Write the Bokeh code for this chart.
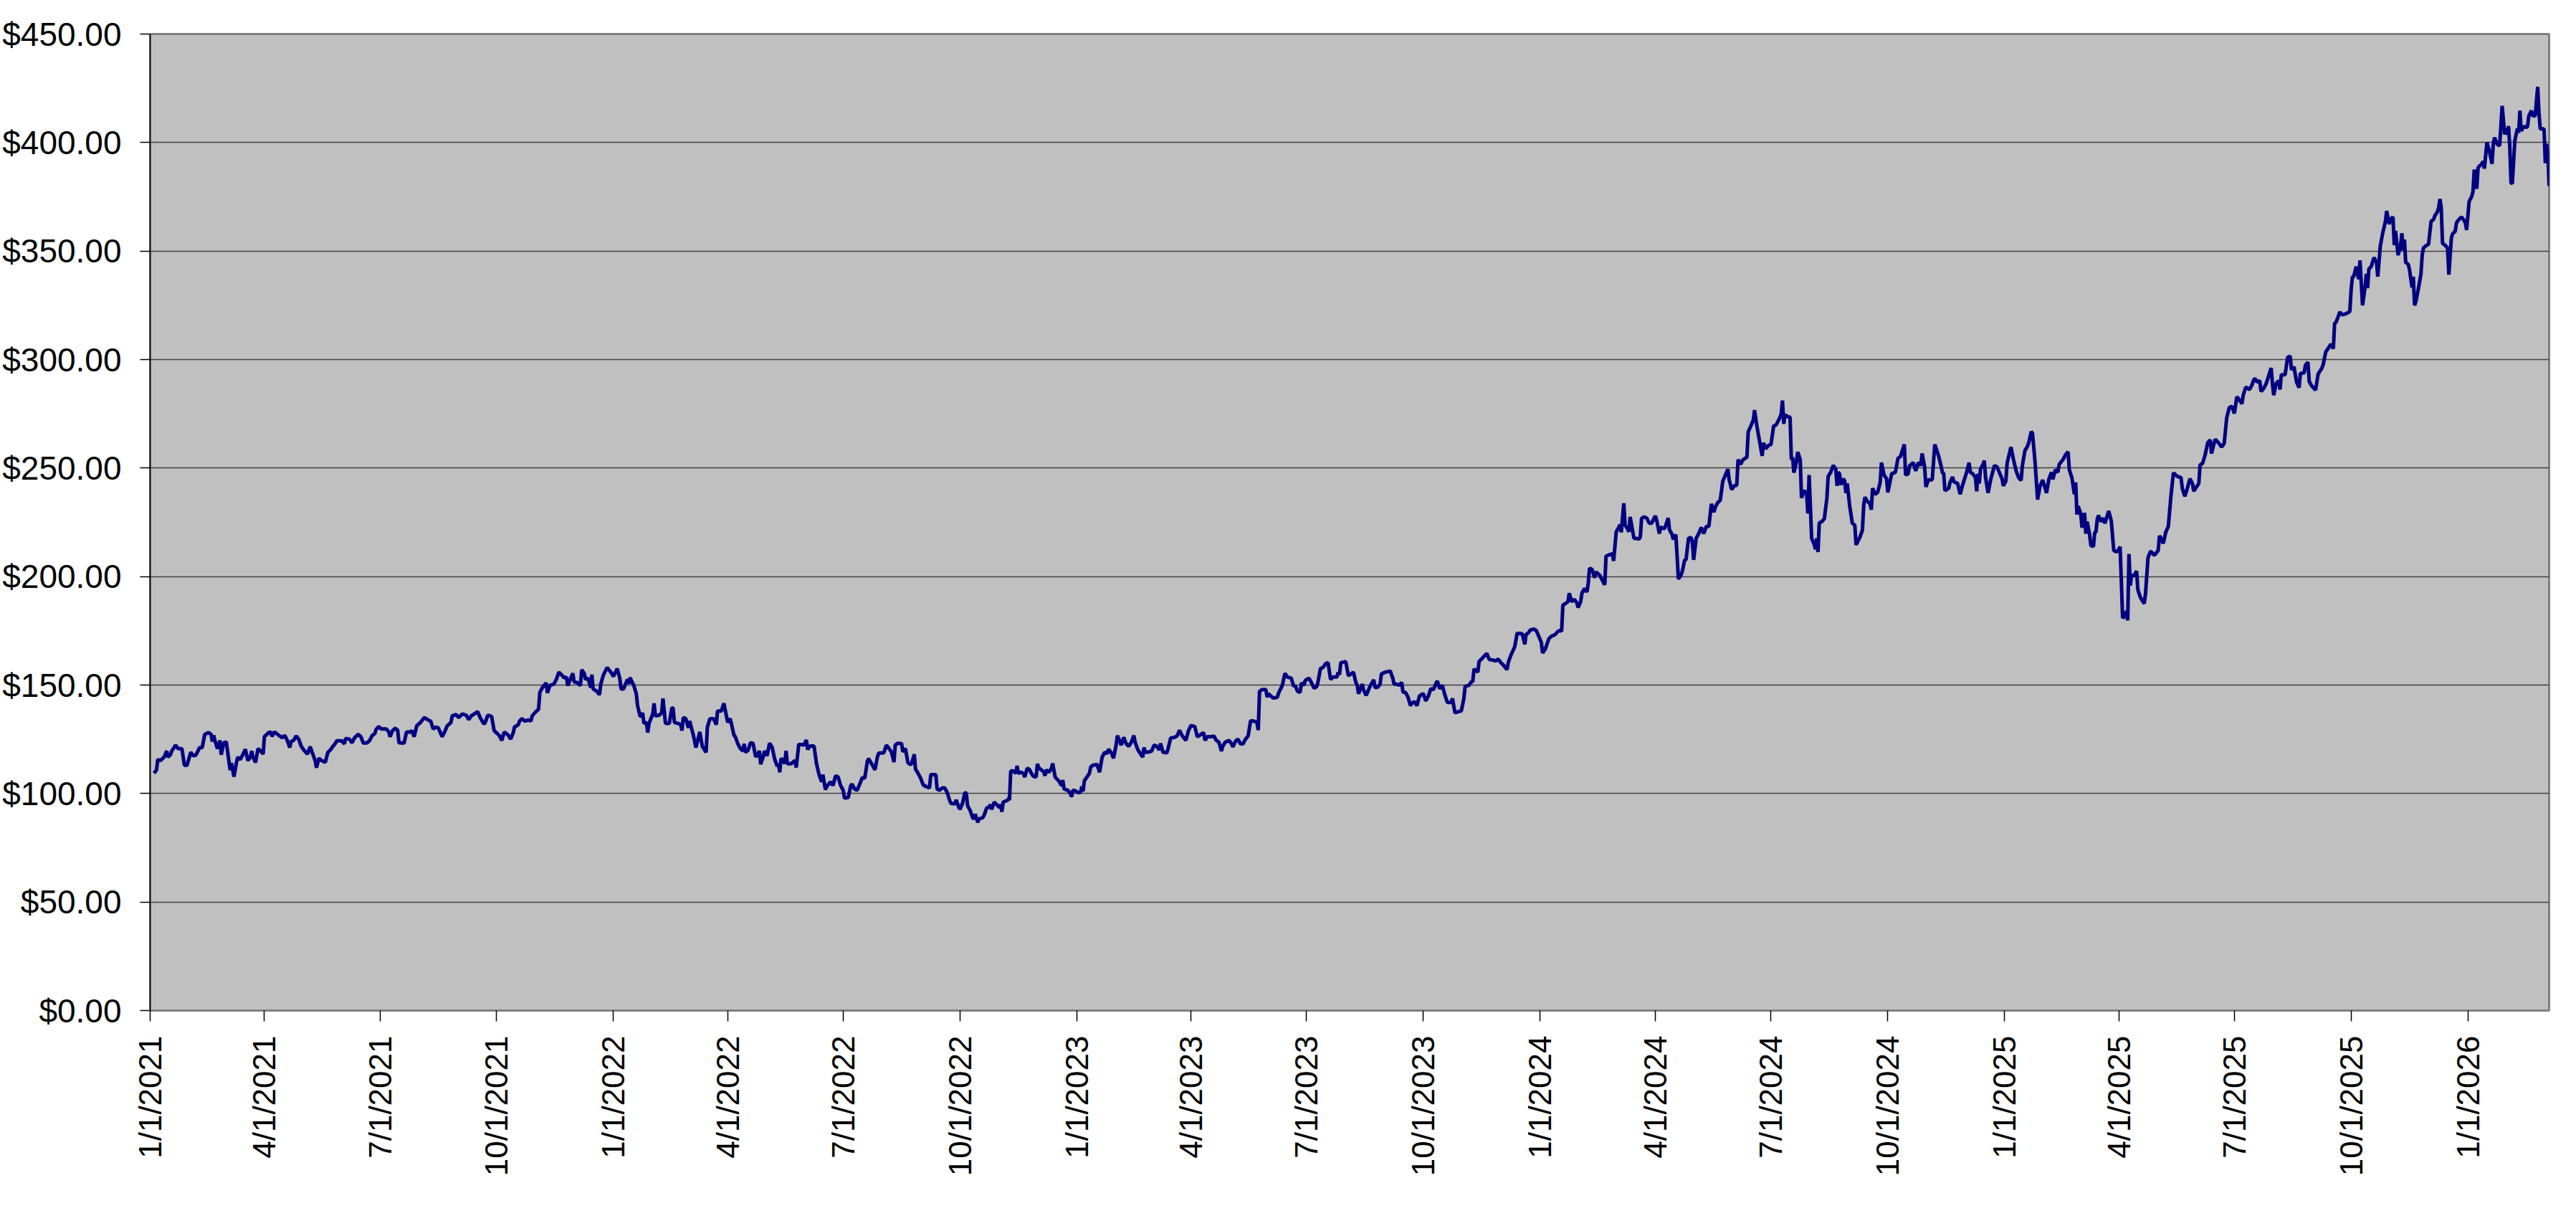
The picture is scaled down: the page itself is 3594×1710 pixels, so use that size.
import math
import pandas as pd
from bokeh.plotting import figure
from bokeh.models import Range1d, FixedTicker, NumeralTickFormatter
from bokeh.embed import file_html
from bokeh.resources import INLINE

# ---------------- data ----------------
start_date = "2021-01-01"

# trading-day offsets (days after start_date)
day_offsets = [
    3, 5, 6, 8, 11, 13, 14, 16, 17, 20,
    22, 25, 27, 29, 32, 34, 36, 39, 41, 43,
    46, 48, 49, 50, 51, 53, 55, 56, 58, 60,
    63, 64, 66, 68, 69, 71, 73, 75, 77, 79,
    80, 81, 83, 85, 87, 89, 90, 93, 95, 96,
    98, 101, 104, 106, 108, 110, 111, 113, 115, 117,
    119, 121, 124, 126, 129, 130, 131, 133, 135, 138,
    140, 142, 144, 146, 147, 151, 153, 154, 157, 159,
    161, 164, 166, 168, 171, 173, 175, 177, 178, 180,
    182, 186, 188, 189, 191, 193, 195, 196, 200, 202,
    205, 206, 208, 210, 213, 216, 219, 221, 223, 225,
    227, 230, 232, 234, 237, 238, 241, 243, 246, 249,
    251,
    253, 256, 258, 260, 263, 264, 266, 269, 270, 271,
    273, 275, 277, 279, 282, 284, 286, 287, 290, 291,
    293, 295, 298, 300, 301, 303, 306, 307, 309, 312,
    313, 315, 318, 320, 322, 324, 326, 328, 329, 331,
    333, 334, 337, 339, 340, 342, 343, 345, 347, 348,
    349, 352, 354, 355, 357, 360, 363, 365, 368, 370,
    371, 373, 376, 377, 378, 381, 383, 384, 386, 387,
    388, 389, 391, 392, 393, 396, 397, 398, 401, 403,
    404, 406, 409, 411, 412, 413, 416, 418, 419, 420,
    422, 424, 425, 428, 430, 433, 435, 438, 439, 441,
    444, 446, 447, 450, 452, 455, 457, 460, 461, 463,
    465, 467, 468, 469, 471, 473, 475, 477, 478, 480,
    481, 483, 484, 486, 488,
    490, 492, 494, 495, 496, 497, 499, 500, 501, 502,
    505, 508, 509, 511, 514, 515, 517, 518, 520, 523,
    525, 527, 529, 530, 532, 533, 536, 538, 540, 542,
    544, 546, 547, 550, 552, 553, 555, 557, 559, 561,
    563, 565, 566, 569, 571, 573, 574, 578, 580, 582,
    584, 586, 587, 589, 592, 593, 595, 597, 599, 600,
    602, 603, 605, 607, 609, 612, 614, 615, 619, 620,
    622, 624, 626, 628, 630, 631, 634, 635, 637, 638,
    640, 642, 643, 644, 646, 648, 649, 650, 652, 653,
    656, 657, 659, 661, 662, 663, 665, 667, 669, 670,
    671, 672, 676, 677, 677, 678, 680, 682, 683, 684,
    686, 688, 689, 691, 693, 694, 696, 698, 699, 700,
    702, 704, 705, 706, 708, 710, 711, 713, 716, 718,
    719, 720, 723, 725, 726, 727, 729, 731, 733, 734,
    735, 736, 738, 740, 741, 743, 746, 748,
    750, 752, 754, 755, 757, 759, 761, 762, 764, 765,
    767, 769, 771, 773, 775, 776, 778, 780, 782, 783,
    784, 787, 789, 791, 793, 795, 796, 798, 801, 802,
    804, 807, 809, 811, 813, 816, 818, 820, 823, 825,
    827, 830, 831, 833, 836, 838, 840, 842, 844, 845,
    847, 850, 852, 853, 855, 857, 859, 861, 863, 865,
    867, 870, 872, 873, 874, 876, 879, 880, 881, 883,
    885, 888, 889, 892, 894, 896, 899, 901, 902, 904,
    906, 907, 909, 910, 913, 915, 917, 919, 920, 922,
    924, 926, 928, 930, 932, 935, 936, 937, 938, 941,
    942, 944, 946, 948, 950, 951, 952, 955, 956, 958,
    961, 962, 964, 965, 967, 969, 970, 973, 977, 979,
    980, 982, 984, 986, 987, 989, 991, 993, 994, 996,
    998,
    1000, 1003, 1005, 1007, 1009, 1011, 1014, 1016, 1018, 1020,
    1022, 1025, 1026, 1028, 1031, 1033, 1035, 1036, 1039, 1041,
    1042, 1043, 1046, 1047, 1049, 1053, 1055, 1058, 1060, 1062,
    1064, 1066, 1069, 1070, 1072, 1075, 1077, 1081, 1083, 1084,
    1086, 1087, 1090, 1092, 1094, 1096, 1097, 1099, 1102, 1104,
    1106, 1107, 1109, 1111, 1112, 1113, 1115, 1117, 1118, 1120,
    1122, 1124, 1125, 1127, 1128, 1130, 1132, 1133, 1134, 1136,
    1138, 1139, 1142, 1144, 1146, 1147, 1149, 1152, 1153, 1155,
    1157, 1158, 1159, 1161, 1162, 1164, 1165, 1166, 1168, 1169,
    1171, 1173, 1174, 1175, 1177, 1179, 1181, 1183, 1185, 1186,
    1187, 1189, 1190, 1193, 1194, 1196, 1197, 1199, 1200, 1202,
    1203, 1204, 1206, 1207, 1209, 1210, 1212, 1214, 1215, 1216,
    1218, 1220, 1222, 1224,
    1226, 1228, 1230, 1232, 1233, 1235, 1237, 1239, 1241, 1243,
    1244, 1246, 1248, 1250, 1251, 1253, 1255, 1258, 1259, 1261,
    1263, 1264, 1266, 1268, 1270, 1271, 1273, 1275, 1277, 1279,
    1281, 1283, 1285, 1286, 1287, 1288, 1290, 1292, 1293, 1294,
    1295, 1297, 1298, 1300, 1301, 1303, 1305, 1306, 1307, 1309,
    1311, 1312, 1313, 1314, 1315, 1317, 1319, 1321, 1322, 1324,
    1326, 1328, 1329, 1330, 1331, 1332, 1334, 1335, 1336, 1337,
    1339, 1341, 1343, 1344, 1347, 1349, 1350, 1351, 1353, 1355,
    1356, 1357, 1359, 1361, 1363, 1364, 1366, 1368, 1369, 1372,
    1373, 1375, 1377, 1379, 1382, 1383, 1385, 1386, 1388, 1389,
    1391, 1393, 1395, 1396, 1398, 1399, 1401, 1404, 1406, 1409,
    1411, 1412, 1413, 1414, 1417, 1418, 1420, 1421, 1424, 1426,
    1428, 1431, 1433, 1434, 1436, 1438, 1439, 1440, 1441, 1442,
    1444, 1445, 1446, 1448, 1450,
    1453, 1455, 1457, 1459, 1460, 1462, 1463, 1466, 1468, 1470,
    1472, 1474, 1475, 1477, 1479, 1480, 1482, 1483, 1485, 1487,
    1489, 1491, 1493, 1494, 1496, 1498, 1499, 1501, 1503, 1504,
    1507, 1509, 1511, 1512, 1514, 1516, 1517, 1518, 1519, 1521,
    1522, 1524, 1525, 1526, 1528, 1529, 1531, 1532, 1533, 1534,
    1535, 1537, 1539, 1540, 1543, 1545, 1546, 1547, 1549, 1550,
    1552, 1554, 1556, 1557, 1558, 1559, 1560, 1561, 1563, 1565,
    1566, 1568, 1571, 1572, 1574, 1576, 1579, 1582, 1583, 1584,
    1586, 1588, 1590, 1592, 1594, 1597, 1600, 1601, 1603, 1605,
    1607, 1609, 1610, 1612, 1614, 1615, 1617, 1619, 1621, 1623,
    1624, 1626, 1627, 1630, 1632, 1634, 1636, 1638, 1640, 1642,
    1644, 1646, 1648, 1649, 1651, 1654, 1656, 1657, 1658, 1660,
    1662, 1663, 1665, 1667, 1669, 1671, 1672, 1673, 1675, 1677,
    1678, 1679, 1682, 1684, 1686, 1687, 1689, 1691, 1693, 1694,
    1697, 1698, 1700, 1701, 1703, 1706, 1708, 1711, 1712, 1714,
    1716, 1718, 1720, 1721, 1722, 1724, 1725, 1727, 1730, 1733,
    1734, 1735, 1736, 1738, 1740, 1741, 1743, 1745, 1746, 1747,
    1748, 1750, 1752, 1754, 1755, 1757, 1759, 1761, 1762, 1764,
    1765, 1767, 1768, 1769, 1771, 1773, 1774, 1775, 1776, 1777,
    1779, 1780, 1782, 1783, 1784, 1785, 1787, 1789, 1790, 1791,
    1793, 1795, 1797, 1799, 1800, 1802, 1803, 1804, 1805, 1806,
    1808, 1810, 1811, 1813, 1814, 1816, 1817, 1819, 1821, 1823,
    1824, 1825, 1827, 1829, 1830, 1831, 1833, 1834, 1835, 1837,
    1838, 1839, 1841, 1843, 1845, 1846, 1847, 1849, 1851, 1852,
    1853, 1855, 1856, 1857, 1858, 1859, 1860, 1861, 1863, 1864,
    1865, 1866, 1867, 1868, 1870, 1872, 1873, 1874, 1876, 1877,
    1879, 1881, 1882, 1883, 1886, 1887, 1888, 1889, 1890,
]

# closing prices in dollars
prices = [
    109.4, 110.8, 115.7, 115.2, 116.8, 119.6, 116.8, 117.9, 119.6, 122.3,
    120.7, 120.7, 113.0, 113.0, 119.0, 117.4, 117.7, 121.2, 121.2, 127.3,
    128.1, 127.3, 124.0, 126.8, 124.5, 120.7, 124.5, 117.9, 123.4, 123.8,
    110.8, 114.1, 107.8, 114.3, 116.8, 115.7, 117.9, 120.4, 115.2, 116.8,
    119.6, 116.8, 114.3, 120.7, 119.6, 118.2, 126.2, 127.9, 128.4, 126.4,
    128.4, 127.0, 125.7, 126.8, 124.5, 121.2, 124.0, 124.5, 126.5, 125.1,
    121.8, 120.1, 118.2, 121.6, 116.8, 115.2, 111.9, 116.3, 115.2, 114.4,
    119.0, 120.1, 121.8, 123.2, 124.3, 124.3, 122.9, 125.4, 125.1, 123.4,
    125.7, 127.3, 126.2, 123.2, 123.4, 124.5, 126.8, 127.6, 129.5, 130.9,
    129.8, 129.8, 128.4, 126.2, 129.0, 130.1, 129.2, 123.4, 123.2, 128.4,
    128.4, 129.0, 126.2, 131.2, 132.8, 135.0, 133.9, 133.4, 129.8, 130.6,
    130.3, 126.2, 128.4, 131.2, 132.8, 135.8, 136.4, 135.0, 136.7, 136.1,
    134.1,
    135.8, 136.9, 137.8, 135.0, 132.0, 132.8, 136.1, 135.6, 132.3, 129.0,
    127.9, 126.8, 124.5, 128.4, 127.0, 125.1, 127.9, 130.6, 131.7, 133.4,
    134.5, 133.4, 133.9, 133.4, 135.8, 137.2, 138.9, 146.6, 148.8, 151.0,
    146.4, 149.9, 150.4, 152.6, 155.9, 154.8, 153.4, 153.7, 149.7, 152.6,
    155.4, 151.5, 151.0, 149.7, 157.0, 155.4, 152.6, 153.2, 148.8, 154.8,
    148.2, 147.1, 145.5, 150.4, 154.5, 158.1, 155.9, 154.0, 157.6, 153.0,
    148.2, 148.2, 152.6, 150.6, 153.4, 149.9, 146.0, 140.5, 135.6, 135.8,
    137.2, 132.3, 132.8, 128.1, 132.3, 136.7, 141.6, 135.8, 136.1, 137.2,
    143.8, 132.3, 132.3, 139.4, 139.4, 132.8, 132.3, 131.7, 129.0, 135.0,
    134.5, 130.3, 133.4, 126.8, 121.2, 128.4, 121.8, 119.0, 130.6, 134.5,
    134.5, 131.7, 138.0, 138.0, 141.6, 132.8, 134.5, 126.8, 126.2, 122.9,
    120.7, 119.6, 122.9, 119.0, 119.9, 123.4, 123.2, 117.0, 117.4, 119.6,
    113.5, 117.0, 119.6, 117.4, 123.2,
    121.4, 115.9, 112.6, 113.7, 109.8, 116.1, 115.3, 113.7, 119.7, 113.7,
    113.7, 115.3, 112.0, 122.7, 122.5, 122.3, 124.7, 120.3, 121.9, 121.9,
    113.7, 108.7, 105.4, 108.7, 101.8, 103.2, 105.4, 103.7, 108.2, 107.6,
    103.7, 101.5, 97.9, 98.2, 103.7, 104.3, 102.1, 101.5, 104.3, 107.3,
    107.1, 114.8, 116.1, 113.1, 110.9, 117.0, 118.6, 118.8, 122.3, 120.8,
    119.2, 114.5, 122.3, 123.2, 123.0, 119.2, 120.8, 114.2, 113.3, 113.9,
    118.1, 111.2, 109.3, 107.1, 104.0, 103.0, 102.6, 108.7, 108.7, 102.1,
    101.5, 102.6, 102.6, 100.4, 96.6, 95.5, 95.2, 97.1, 93.8, 92.7,
    95.5, 100.7, 99.9, 94.4, 92.2, 88.9, 88.3, 90.5, 86.7, 88.3,
    88.9, 90.0, 93.3, 93.8, 94.9, 92.7, 96.0, 94.9, 93.6, 94.9,
    91.6, 96.0, 97.1, 98.5, 96.9, 110.4, 110.4, 109.3, 112.8, 109.3,
    109.8, 109.3, 107.6, 111.7, 110.9, 109.5, 107.9, 107.6, 113.7, 112.0,
    110.9, 110.1, 108.2, 110.9, 109.8, 111.5, 113.9, 107.6, 105.7, 103.7,
    106.2, 102.1, 101.5, 99.9, 98.5, 101.5, 101.3, 100.4, 100.7, 103.2,
    101.0, 105.9, 107.6, 109.3, 112.3, 113.1, 113.4, 109.8,
    116.8, 119.0, 118.5, 120.4, 119.0, 116.3, 122.3, 126.7, 124.0, 122.3,
    125.9, 122.9, 121.8, 123.7, 126.7, 123.7, 120.4, 118.5, 116.8, 121.2,
    119.0, 119.2, 119.6, 122.3, 121.8, 120.1, 123.1, 119.0, 118.8, 120.7,
    125.6, 125.9, 126.5, 129.2, 126.7, 124.5, 128.9, 131.4, 130.9, 126.2,
    126.9, 128.1, 124.5, 126.2, 126.2, 126.5, 124.5, 123.7, 119.6, 121.8,
    123.7, 124.5, 122.9, 121.5, 124.0, 125.1, 122.9, 122.9, 125.1, 126.5,
    133.6, 133.3, 132.8, 129.2, 147.1, 147.9, 147.9, 144.4, 146.0, 144.9,
    144.0, 144.4, 146.3, 149.9, 155.4, 153.7, 153.2, 149.3, 149.9, 147.1,
    146.6, 151.0, 149.9, 152.1, 153.2, 151.0, 148.5, 149.3, 151.2, 157.6,
    158.1, 159.8, 160.3, 152.6, 153.7, 153.7, 155.9, 154.8, 160.3, 160.7,
    160.7, 154.3, 155.1, 155.9, 151.0, 149.9, 146.0, 150.4, 147.7, 145.2,
    149.3, 150.4, 152.4, 148.8, 149.0, 150.4, 155.1, 155.9, 156.5, 153.2,
    150.4, 150.4, 149.9, 151.2, 146.8, 146.6, 144.4, 140.5, 141.6, 142.4,
    140.5,
    144.9, 146.1, 142.7, 144.9, 148.3, 147.9, 151.9, 148.3, 149.9, 145.5,
    142.0, 142.0, 143.8, 137.2, 137.8, 138.1, 143.8, 149.4, 149.9, 151.6,
    151.6, 157.4, 156.0, 160.9, 162.0, 164.6, 161.8, 161.5, 161.1, 162.0,
    160.4, 159.3, 157.1, 160.4, 163.7, 167.5, 173.9, 173.6, 168.8, 173.3,
    174.1, 175.2, 175.8, 175.2, 172.5, 169.7, 164.8, 166.4, 171.4, 172.5,
    173.0, 173.3, 174.7, 175.2, 174.7, 186.8, 187.6, 188.4, 192.3, 188.4,
    189.5, 187.9, 185.7, 188.4, 192.3, 194.5, 192.9, 197.0, 203.9, 203.3,
    199.5, 202.2, 200.6, 198.4, 196.2, 209.4, 209.9, 210.5, 207.2, 220.6,
    222.6, 223.9, 220.4, 233.8, 223.7, 222.0, 220.6, 227.5, 220.9, 217.6,
    217.6, 217.3, 218.2, 226.8, 227.5, 227.0, 224.6, 224.6, 227.0, 227.9,
    225.7, 219.8, 222.8, 222.0, 223.5, 227.0, 221.5, 219.5, 217.1, 219.3,
    209.4, 198.9, 200.6, 202.2, 207.7, 207.7, 217.6, 218.0, 216.0, 207.7,
    217.6, 219.8, 222.6, 219.8,
    223.1, 223.1, 233.5, 229.7, 231.9, 234.1, 235.2, 244.0, 246.7, 249.5,
    244.6, 240.1, 241.8, 242.1, 253.9, 251.7, 253.9, 255.0, 266.6, 269.3,
    272.1, 276.7, 268.8, 262.2, 255.6, 261.6, 258.9, 260.5, 260.9, 269.3,
    269.9, 272.1, 274.8, 281.1, 270.4, 274.5, 273.7, 273.4, 253.9, 255.0,
    247.9, 252.8, 257.4, 253.9, 236.3, 239.6, 238.5, 229.1, 246.8, 217.6,
    214.8, 212.6, 217.6, 211.3, 224.7, 225.3, 226.7, 236.0, 246.2, 248.1,
    251.2, 249.5, 241.8, 248.1, 247.3, 242.3, 245.1, 244.0, 238.5, 242.9,
    232.4, 224.7, 223.6, 214.6, 218.1, 221.4, 233.0, 236.6, 234.6, 233.5,
    230.8, 240.7, 237.9, 238.8, 243.4, 252.5, 246.8, 245.1, 238.8, 247.3,
    247.6, 248.1, 254.5, 255.3, 260.9, 246.8, 247.3, 250.9, 252.0, 252.5,
    248.7, 252.5, 251.2, 256.7, 250.6, 241.3, 244.6, 244.6, 260.9, 255.6,
    250.9, 247.9, 247.6, 239.6, 240.7, 243.4, 245.9, 243.7, 242.9, 237.9,
    242.3, 247.9, 252.5, 248.1, 247.3, 245.7, 239.3, 247.3, 242.9, 249.5,
    251.7, 253.4, 245.7, 238.5, 244.6,
    251.1, 250.6, 247.8, 245.1, 241.8, 244.0, 252.3, 259.7, 253.9, 248.9,
    245.6, 244.3, 251.1, 258.0, 260.0, 261.6, 266.8, 266.0, 252.8, 235.5,
    241.8, 244.5, 240.7, 238.5, 245.1, 248.1, 244.8, 249.2, 248.1, 251.7,
    253.9, 256.1, 257.5, 249.2, 245.6, 237.9, 243.4, 228.6, 232.4, 228.9,
    222.5, 229.3, 219.8, 225.3, 219.2, 214.3, 213.9, 220.3, 220.5, 226.4,
    228.2, 225.3, 226.9, 224.5, 230.2, 225.8, 219.2, 212.0, 211.5, 211.5,
    213.7, 180.9, 181.8, 184.2, 179.8, 210.4, 195.9, 200.5, 200.5, 202.5,
    193.9, 190.4, 187.5, 191.9, 208.7, 211.7, 209.8, 212.0, 218.7, 217.9,
    215.3, 220.5, 223.1, 236.8, 247.8, 246.2, 245.6, 240.7, 237.0, 240.7,
    245.1, 242.9, 239.3, 241.2, 242.9, 251.4, 252.2, 256.1, 261.6, 263.0,
    256.7, 261.3, 263.3, 261.3, 259.7, 261.3, 273.2, 277.8, 278.5, 275.2,
    282.9, 281.4, 279.6, 283.6, 287.3, 286.2, 288.4, 290.2, 291.3, 289.7,
    290.2, 285.3, 286.6, 288.8, 292.4, 296.1, 289.1, 283.6, 289.1, 290.2,
    286.2, 293.0, 293.0, 301.0, 301.6, 295.3, 296.6, 289.7, 287.0, 293.6,
    293.9, 297.4, 298.8, 289.9, 287.8, 285.9, 293.3, 296.1, 297.7, 303.5,
    305.2, 307.1, 305.0, 316.7, 317.1, 320.0, 321.9, 320.6, 321.1, 322.2,
    332.1, 338.0, 338.2, 342.8, 337.1, 345.7, 325.0, 333.2, 339.5, 332.9,
    341.7, 343.1, 347.0, 344.8, 338.2, 352.3, 358.6, 363.5, 368.5, 362.4,
    364.6, 365.7, 352.7, 359.3, 348.1, 352.5, 358.2, 350.3, 355.3, 344.8,
    343.9, 341.5, 333.2, 338.2, 325.0, 326.6, 332.7, 339.3, 348.1, 351.4,
    352.5, 353.1, 363.7, 364.6, 366.3, 368.1, 370.1, 374.0, 370.1, 353.6,
    352.7, 351.4, 339.1, 356.0, 358.0, 359.1, 363.0, 364.6, 365.7, 364.1,
    363.0, 359.7, 372.9, 375.1, 377.3, 387.5, 378.7, 388.3, 389.1, 390.2,
    391.3, 388.0, 400.1, 396.0, 390.2, 399.3, 402.3, 399.3, 398.5, 407.6,
    416.9, 403.7, 406.5, 403.7, 407.6, 398.2, 381.4, 381.1, 400.9, 403.7,
    406.5, 404.5, 414.7, 405.4, 407.4, 407.0, 407.4, 412.2, 414.7, 412.5,
    412.2, 425.7, 413.6, 406.3, 406.3, 390.5, 399.3, 394.9, 380.0,
]

tick_labels = [
    "1/1/2021", "4/1/2021", "7/1/2021", "10/1/2021",
    "1/1/2022", "4/1/2022", "7/1/2022", "10/1/2022",
    "1/1/2023", "4/1/2023", "7/1/2023", "10/1/2023",
    "1/1/2024", "4/1/2024", "7/1/2024", "10/1/2024",
    "1/1/2025", "4/1/2025", "7/1/2025", "10/1/2025",
    "1/1/2026",
]
y_ticks = [0, 50, 100, 150, 200, 250, 300, 350, 400, 450]

assert len(day_offsets) == len(prices), (len(day_offsets), len(prices))

# ---------------- chart ----------------
base = pd.Timestamp(start_date)
tick_days = [int((pd.to_datetime(s, format="%m/%d/%Y") - base).days) for s in tick_labels]

FONT = "Liberation Sans"

p = figure(
    title=None,
    frame_width=3347, frame_height=1362,
    min_border_left=204, min_border_right=27,
    min_border_top=47, min_border_bottom=280,
    x_range=Range1d(0, day_offsets[-1]),
    y_range=Range1d(0, y_ticks[-1]),
    output_backend="svg", toolbar_location=None,
)

p.background_fill_color = "#C0C0C0"
p.border_fill_color = "#FFFFFF"
p.outline_line_color = "#808080"
p.outline_line_width = 3

p.line(day_offsets, prices, line_color="#000080", line_width=5)

# y axis
p.yaxis.ticker = FixedTicker(ticks=y_ticks)
p.yaxis.formatter = NumeralTickFormatter(format="$0.00")
p.yaxis.major_label_text_font = FONT
p.yaxis.major_label_text_font_size = "46px"
p.yaxis.major_label_text_color = "#000000"
p.yaxis.major_tick_out = 14
p.yaxis.major_tick_in = 0
p.yaxis.minor_tick_out = 0
p.yaxis.minor_tick_in = 0
p.yaxis.major_label_standoff = 26
p.yaxis.axis_line_color = "#000000"
p.yaxis.axis_line_width = 1.5
p.yaxis.major_tick_line_color = "#000000"
p.yaxis.major_tick_line_width = 1.5

# x axis (labels read bottom-to-top)
p.xaxis.ticker = FixedTicker(ticks=tick_days)
p.xaxis.major_label_overrides = {d: s for d, s in zip(tick_days, tick_labels)}
p.xaxis.major_label_orientation = math.pi / 2
p.xaxis.major_label_text_font = FONT
p.xaxis.major_label_text_font_size = "44px"
p.xaxis.major_label_text_color = "#000000"
p.xaxis.major_tick_out = 15
p.xaxis.major_tick_in = 0
p.xaxis.minor_tick_out = 0
p.xaxis.minor_tick_in = 0
p.xaxis.major_label_standoff = 20
p.xaxis.axis_line_color = "#808080"
p.xaxis.axis_line_width = 1.5
p.xaxis.major_tick_line_color = "#000000"
p.xaxis.major_tick_line_width = 1.5

# grid
p.xgrid.visible = False
p.ygrid.grid_line_color = "#404040"
p.ygrid.grid_line_width = 1.5

open("out.html", "w").write(file_html(p, INLINE))
